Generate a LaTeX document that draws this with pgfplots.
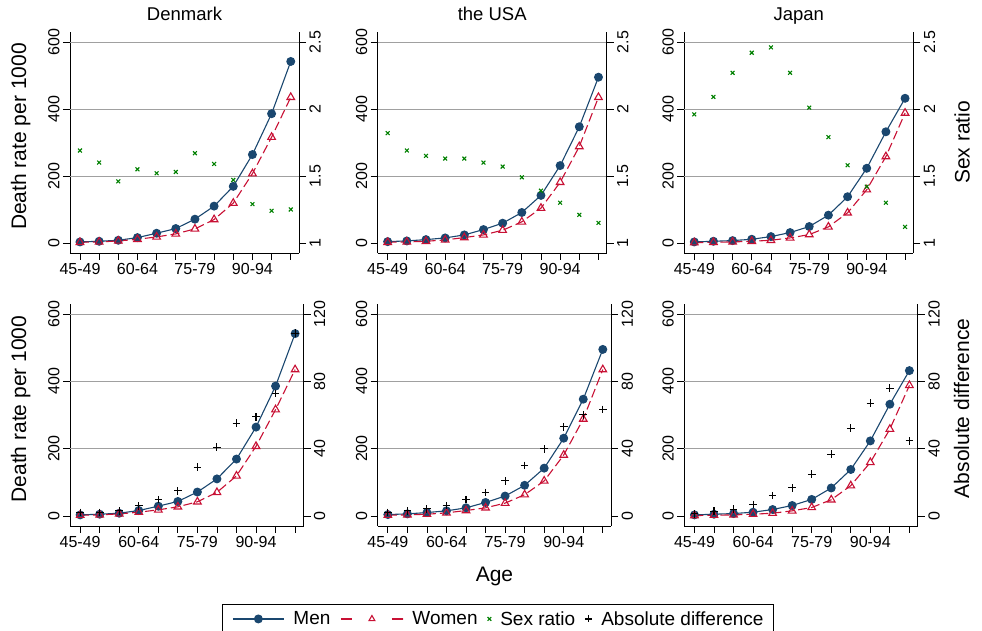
\documentclass[border=0pt]{standalone}
\usepackage{pgfplots}
\usepackage{pgfplotstable}
\pgfplotsset{compat=1.18}
\usepackage{fontspec}
\setmainfont{Liberation Sans}
\definecolor{menc}{RGB}{26,71,111}
\definecolor{womc}{RGB}{200,16,52}
\definecolor{src}{RGB}{0,128,0}
\definecolor{gridc}{RGB}{160,160,160}

\pgfplotstableread{
x men women sr ad
0 3 2 1.69 2.0
1 5 3 1.60 2.0
2 8 6 1.46 3.0
3 16 11 1.55 6.0
4 29 18 1.52 9.7
5 43 27 1.53 14.9
6 71 42 1.67 29.0
7 110 70 1.59 40.9
8 169 119 1.47 55.1
9 264 207 1.29 58.9
10 386 316 1.24 72.8
11 542 435 1.25 108.7
}\dk
\pgfplotstableread{
x men women sr ad
0 4 2 1.82 2.0
1 6 3 1.69 3.0
2 10 5 1.65 4.2
3 15 9 1.63 6.1
4 24 16 1.63 9.7
5 40 24 1.60 13.9
6 59 38 1.57 20.8
7 91 63 1.49 30.0
8 142 104 1.39 39.9
9 231 181 1.30 53.0
10 347 288 1.21 60.1
11 495 435 1.15 63.3
}\us
\pgfplotstableread{
x men women sr ad
0 3 1 1.96 1.2
1 5 2 2.09 2.8
2 7 3 2.27 4.0
3 11 5 2.42 6.9
4 19 8 2.46 12.1
5 31 15 2.27 16.7
6 49 25 2.01 24.8
7 83 48 1.79 36.7
8 138 90 1.58 52.2
9 223 159 1.42 67.0
10 332 258 1.30 76.0
11 432 388 1.12 44.6
}\jp

\pgfplotsset{
  base/.style={scale only axis, anchor=south west,
    xmin=-0.52, xmax=11.43,
    tick align=outside, major tick length=7pt,
    axis line style={line width=0.8pt, black},
    every tick/.style={line width=0.8pt, black},
    /pgf/number format/assume math mode=true,
    ticklabel style={font=\fontsize{16}{19}\selectfont},
    xtick={0,...,11},
  },
  leftax/.style={base, axis y line*=left, axis x line*=bottom,
    ymin=-30, ymax=630, ytick={0,200,400,600},
    yticklabel style={rotate=90, anchor=south},
    xticklabels={45-49,,,60-64,,,75-79,,,90-94,,},
    extra y ticks={200,400,600}, extra y tick labels={},
    extra y tick style={grid=major, major tick length=0pt},
    grid style={gridc, line width=0.9pt},
    label style={font=\fontsize{21}{25}\selectfont},
    title style={font=\fontsize{18.5}{22}\selectfont, anchor=base, at={(0.5,1)}, yshift=5pt},
  },
  rightax/.style={base, axis y line*=right, axis x line=none,
    yticklabel style={rotate=90, anchor=north},
    label style={font=\fontsize{21}{25}\selectfont},
  },
  rsr/.style={rightax, ymin=0.925, ymax=2.575, ytick={1,1.5,2,2.5}},
  rad/.style={rightax, ymin=-6, ymax=126, ytick={0,40,80,120}},
  menst/.style={menc, line width=1.1pt, mark=*, mark size=3.9pt, mark options={solid, fill=menc}, forget plot},
  womst/.style={womc, line width=1.1pt, dash pattern=on 9pt off 4pt, mark=triangle, mark size=4.4pt, mark options={solid, line width=1.1pt}, forget plot},
  srst/.style={only marks, src, mark=x, mark size=2.7pt, mark options={line width=1.1pt}, forget plot},
  adst/.style={only marks, black, mark=+, mark size=3.8pt, mark options={line width=1.1pt}, forget plot},
  legmen/.style={legend image code/.code={\draw[mark repeat=2,mark phase=2,##1] plot coordinates {(0pt,0pt) (25.5pt,0pt) (51pt,0pt)};}},
  legwom/.style={legend image code/.code={\draw[mark repeat=2,mark phase=2,##1] plot coordinates {(0pt,0pt) (31pt,0pt) (62pt,0pt)};}},
  legone/.style={legend image code/.code={\draw[##1] plot coordinates {(4pt,0pt)};}},
}

\newcommand{\toppanel}[4]{%
\begin{axis}[leftax, at={(#1,378pt)}, width=229pt, height=221pt, #3]
 \addplot[menst] table[x=x,y=men]{#2};
 \addplot[womst] table[x=x,y=women]{#2};
\end{axis}
\begin{axis}[rsr, at={(#1,378pt)}, width=229pt, height=221pt, #4]
 \addplot[srst] table[x=x,y=sr]{#2};
\end{axis}}

\newcommand{\botpanel}[5]{%
\begin{axis}[leftax, at={(#1,105pt)}, width=233.5pt, height=222pt, #3]
 \addplot[menst] table[x=x,y=men]{#2};
 \addplot[womst] table[x=x,y=women]{#2};
 #5
\end{axis}
\begin{axis}[rad, at={(#1,105pt)}, width=233.5pt, height=222pt, #4]
 \addplot[adst] table[x=x,y=ad]{#2};
\end{axis}}

\begin{document}
\begin{tikzpicture}
\useasboundingbox (0,0) rectangle (982pt,631pt);
\toppanel{70pt}{\dk}{title={Denmark}, ylabel={Death rate per 1000},
  ylabel style={at={(axis description cs:-0.192,0.527)}, anchor=base}}{}
\toppanel{377.7pt}{\us}{title={the USA}}{}
\toppanel{684.3pt}{\jp}{title={Japan}}{ylabel={Sex ratio},
  ylabel style={at={(axis description cs:1.246,0.5)}, anchor=base}}
\botpanel{70pt}{\dk}{ylabel={Death rate per 1000},
  ylabel style={at={(axis description cs:-0.188,0.527)}, anchor=base}}{}{}
\botpanel{377.7pt}{\us}{xlabel={Age},
  xlabel style={at={(axis description cs:0.5,-0.252)}, anchor=base},
  legend columns=4,
  legend style={at={(axis description cs:0.515,-0.351)}, anchor=north,
    draw=black, line width=0.8pt, font=\fontsize{19}{22}\selectfont,
    inner ysep=7pt, inner xsep=10pt,
    nodes={inner sep=0pt},
    /tikz/every odd column/.append style={column sep=9pt},
    /tikz/every even column/.append style={column sep=10pt}},
  legend cell align=left}{}{%
  \addlegendimage{legmen, menc, line width=1.1pt, mark=*, mark size=3.9pt, mark options={solid, fill=menc}}
  \addlegendentry{Men}
  \addlegendimage{legwom, womc, line width=1.1pt, dash pattern=on 11pt off 40pt on 11pt off 0pt, mark=triangle, mark size=3.4pt, mark options={solid, line width=1.1pt}}
  \addlegendentry{Women}
  \addlegendimage{legone, only marks, src, mark=x, mark size=2.6pt, mark options={line width=1.1pt}}
  \addlegendentry{Sex ratio}
  \addlegendimage{legone, only marks, black, mark=+, mark size=3.5pt, mark options={line width=1.1pt}}
  \addlegendentry{Absolute difference}
}
\botpanel{684.3pt}{\jp}{}{ylabel={Absolute difference},
  ylabel style={at={(axis description cs:1.22,0.53)}, anchor=base}}{}
\end{tikzpicture}
\end{document}
